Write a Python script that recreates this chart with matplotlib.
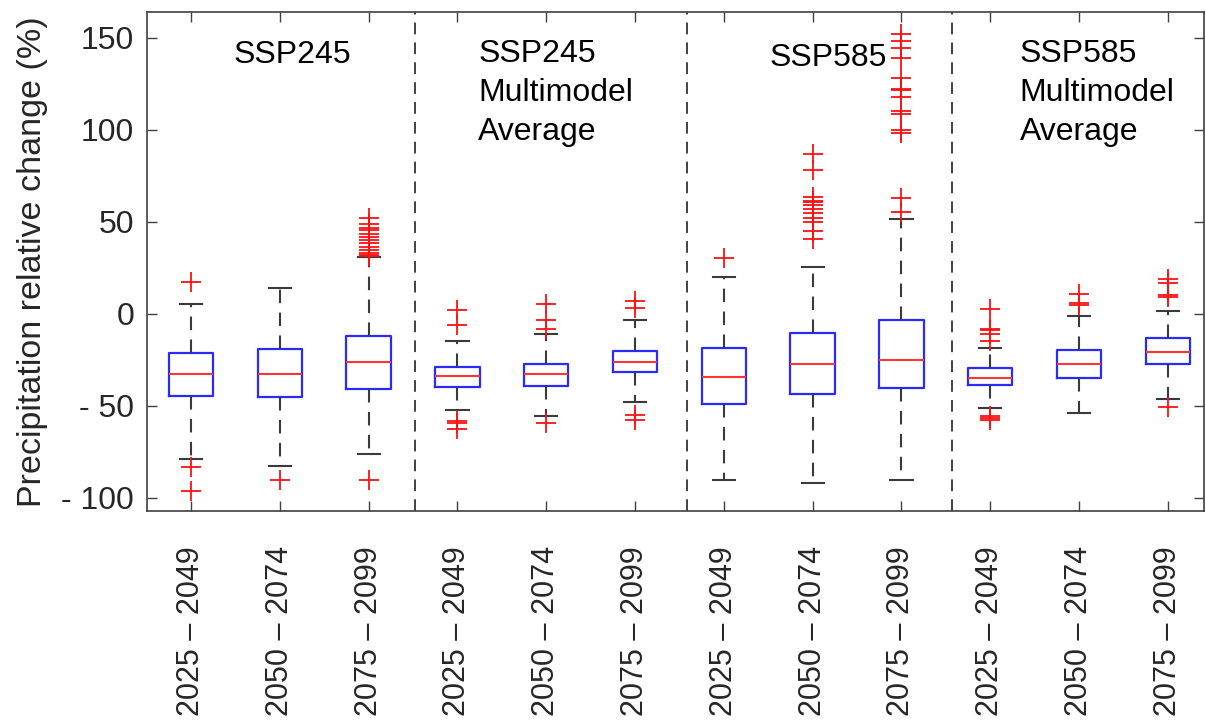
import matplotlib
matplotlib.use("Agg")
import matplotlib.pyplot as plt

plt.rcParams['font.family'] = ['Liberation Sans', 'DejaVu Sans']

periods = ["2025 – 2049", "2050 – 2074", "2075 – 2099"]
tick_labels = periods * 4
groups = ["SSP245", "SSP245\nMultimodel\nAverage", "SSP585", "SSP585\nMultimodel\nAverage"]

medians = [-32.6, -32.9, -25.9, -33.9, -32.9, -25.9, -34.2, -27.5, -25.2, -35.1, -27.2, -20.8]
q1 = [-44.7, -45.3, -41.1, -39.7, -39.3, -31.7, -48.9, -43.5, -40.2, -38.9, -35.1, -27.2]
q3 = [-21.2, -19.2, -12.1, -29.0, -27.2, -20.3, -18.8, -10.3, -3.4, -29.3, -19.9, -13.0]
whislo = [-79.1, -82.9, -76.1, -52.0, -55.6, -48.0, -90.5, -92.0, -90.0, -51.1, -54.1, -46.5]
whishi = [5.4, 13.8, 30.8, -14.5, -10.7, -3.1, 19.9, 25.4, 51.7, -18.5, -1.3, 1.8]
fliers = [
    [17.2, -83.3, -96.4],
    [-90.0],
    [52.2, 48.9, 46.5, 45.3, 43.5, 41.8, 40.0, 38.2, 36.5, 34.8, 33.2, 32.0, 31.3, -90.0],
    [2.0, -6.1, -58.3, -59.2, -62.5],
    [5.4, -3.6, -8.5, -59.2],
    [6.9, 3.3, -54.7, -57.4],
    [30.1],
    [86.6, 77.9, 63.4, 61.3, 61.0, 59.1, 56.7, 54.6, 52.2, 49.7, 44.9, 40.4],
    [151.8, 148.2, 144.5, 139.1, 128.3, 121.9, 121.5, 117.8, 110.2, 108.4, 99.7, 98.4, 63.0, 55.4],
    [2.4, -8.2, -8.6, -11.2, -14.8, -55.6, -56.5, -57.4],
    [10.9, 6.0, 4.7],
    [18.7, 16.8, 10.2, 9.1, -50.7],
]
divider_pos = [3.52, 6.58, 9.57]

stats = []
for i in range(12):
    stats.append(dict(med=medians[i], q1=q1[i], q3=q3[i], whislo=whislo[i],
                      whishi=whishi[i], fliers=fliers[i]))

fig = plt.figure(figsize=(12.06, 7.20), dpi=100)
ax = fig.add_axes([0.1216, 0.290, 0.877, 0.693])

positions = list(range(1, 13))
ax.bxp(stats, positions=positions, widths=0.5, showfliers=True,
       boxprops=dict(color='#2a2aff', linewidth=1.6),
       medianprops=dict(color='#ff3535', linewidth=1.5),
       whiskerprops=dict(color='#3a3a3a', linewidth=1.5, linestyle=(0, (6.5, 4.5))),
       capprops=dict(color='#3a3a3a', linewidth=1.5),
       capwidths=0.25,
       flierprops=dict(marker='+', markeredgecolor='#ff1010', markersize=14,
                       markeredgewidth=1.3, linestyle='none'))

for xd in divider_pos:
    ax.axvline(xd, color='#333333', linewidth=1.3, linestyle=(0, (6.5, 4.5)))

ax.set_xlim(0.5, 12.41)
ax.set_ylim(-107.2, 163.8)
ax.set_xticks(positions)
ax.set_xticklabels(tick_labels, rotation=90, fontsize=22)
yt = [-100, -50, 0, 50, 100, 150]
ax.set_yticks(yt)
ax.set_yticklabels(["- 100", "- 50", "0", "50", "100", "150"], fontsize=23)
ax.tick_params(direction='in', top=True, right=True, length=7, width=1,
               color='#404040', labelcolor='#262626')
ax.tick_params(axis='y', pad=9)
ax.tick_params(axis='x', pad=25)
for s in ax.spines.values():
    s.set_color('#404040')
    s.set_linewidth(1.2)
ax.set_ylabel("Precipitation relative change (%)", fontsize=24.5, color='#262626', labelpad=10)

ax.text(2.14, 140.6, groups[0], fontsize=23, ha='center', va='center')
ax.text(4.235, 149.5, groups[1], fontsize=23, ha='left', va='top', linespacing=1.4)
ax.text(7.515, 139.0, groups[2], fontsize=23, ha='left', va='center')
ax.text(10.33, 149.5, groups[3], fontsize=23, ha='left', va='top', linespacing=1.4)

fig.savefig("out.png", dpi=100)
